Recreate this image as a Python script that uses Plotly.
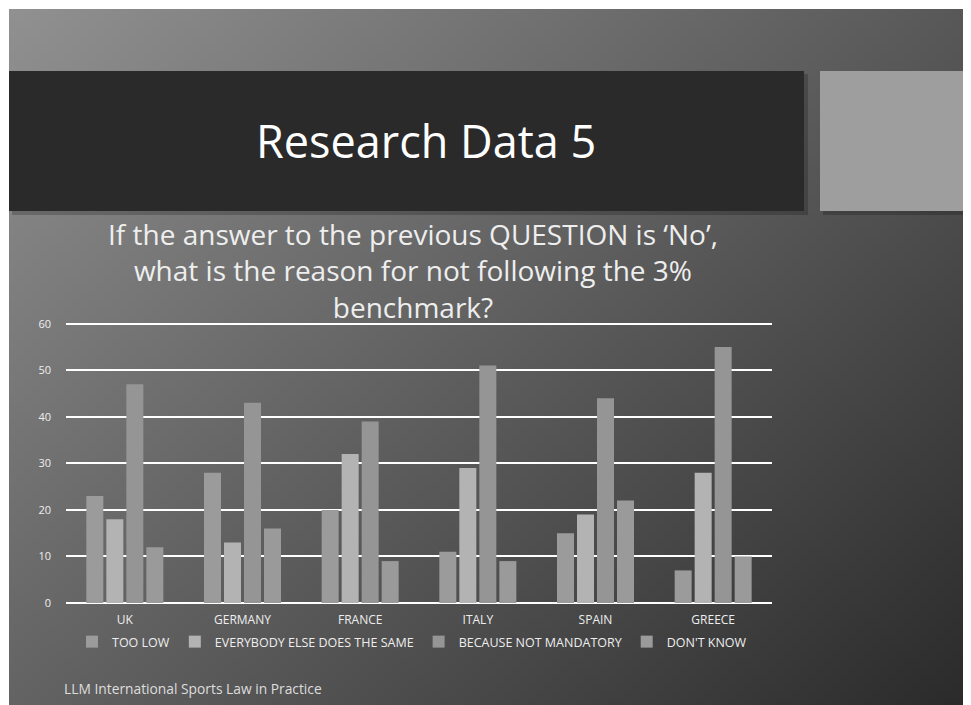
import base64, struct, zlib
import numpy as np
import plotly.graph_objects as go

countries = ["UK", "GERMANY", "FRANCE", "ITALY", "SPAIN", "GREECE"]
too_low = [23, 28, 20, 11, 15, 7]
everybody_else = [18, 13, 32, 29, 19, 28]
not_mandatory = [47, 43, 39, 51, 44, 55]
dont_know = [12, 16, 9, 9, 22, 10]
series_names = ["TOO LOW", "EVERYBODY ELSE DOES THE SAME", "BECAUSE NOT MANDATORY", "DON'T KNOW"]
series_colors = ["#9b9b9b", "#b3b3b3", "#959595", "#9a9a9a"]
y_ticks = [0, 10, 20, 30, 40, 50, 60]
subtitle_lines = ["If the answer to the previous QUESTION is \u2018No\u2019,",
                  "what is the reason for not following the 3%",
                  "benchmark?"]

W, H = 971, 705
OFF = 8  # page body margin
L, R, T, B = 66 - OFF, 772 - OFF, 319 - OFF, 603 - OFF
YMAX = 61


def px(x):
    return (x - OFF - L) / (R - L)


def py(y):
    return (B - (y - OFF)) / (B - T)


def gradient_png(w=120, h=90):
    xs = np.linspace(0, 1, w)[None, :]
    ys = np.linspace(0, 1, h)[:, None]
    t = (xs * 0.55 + ys * 0.45)
    v = 145 - 103 * t
    v = np.clip(v, 0, 255).astype(np.uint8)
    raw = b"".join(b"\x00" + v[i].tobytes() for i in range(h))

    def chunk(tag, data):
        c = struct.pack(">I", len(data)) + tag + data
        return c + struct.pack(">I", zlib.crc32(tag + data) & 0xFFFFFFFF)

    png = b"\x89PNG\r\n\x1a\n"
    png += chunk(b"IHDR", struct.pack(">IIBBBBB", w, h, 8, 0, 0, 0, 0))
    png += chunk(b"IDAT", zlib.compress(raw, 9))
    png += chunk(b"IEND", b"")
    return "data:image/png;base64," + base64.b64encode(png).decode()


fig = go.Figure()
for name, vals, col in zip(series_names, [too_low, everybody_else, not_mandatory, dont_know], series_colors):
    fig.add_trace(go.Bar(x=countries, y=vals, name=name, marker=dict(color=col, line=dict(width=0))))

fig.update_layout(
    width=W, height=H,
    margin=dict(l=L, r=W - R, t=T, b=H - B, pad=0),
    paper_bgcolor="white",
    plot_bgcolor="rgba(0,0,0,0)",
    barmode="group",
    bargap=0.32,
    bargroupgap=0.15,
    font=dict(family="Open Sans, Lato, sans-serif", color="#e8e8e8"),
    xaxis=dict(showgrid=False, tickfont=dict(size=12, color="#eeeeee", family="Open Sans"),
               showline=False, ticks="", ticklen=0, ticklabelstandoff=8),
    yaxis=dict(range=[0, YMAX], tickvals=y_ticks, showgrid=True, gridcolor="white", gridwidth=2,
               zeroline=True, zerolinecolor="white", zerolinewidth=2,
               tickfont=dict(size=11, color="#eeeeee", family="Open Sans"),
               ticks="", ticklabelstandoff=14),
    legend=dict(orientation="h", x=px(412), xanchor="center", y=py(642), yanchor="middle",
                font=dict(size=12.5, color="#eeeeee", family="Open Sans"),
                bgcolor="rgba(0,0,0,0)", itemwidth=30, tracegroupgap=0),
    showlegend=True,
)

fig.add_layout_image(dict(source=gradient_png(), xref="paper", yref="paper",
                          x=px(9), y=py(9), sizex=(W - 9) / (R - L), sizey=(H + 20 - 9) / (B - T),
                          sizing="stretch", xanchor="left", yanchor="top", layer="below"))

shapes = [
    dict(type="rect", xref="paper", yref="paper", x0=px(12), x1=px(808), y0=py(215), y1=py(74),
         fillcolor="rgba(0,0,0,0.2)", line=dict(width=0), layer="below"),
    dict(type="rect", xref="paper", yref="paper", x0=px(9), x1=px(804), y0=py(211), y1=py(71),
         fillcolor="#2a2a2a", line=dict(width=0), layer="below"),
    dict(type="rect", xref="paper", yref="paper", x0=px(823), x1=px(980), y0=py(215), y1=py(74),
         fillcolor="rgba(0,0,0,0.2)", line=dict(width=0), layer="below"),
    dict(type="rect", xref="paper", yref="paper", x0=px(820), x1=px(980), y0=py(211), y1=py(71),
         fillcolor="#9e9e9e", line=dict(width=0), layer="below"),
]
fig.update_layout(shapes=shapes)

fig.add_annotation(text="Research Data 5", xref="paper", yref="paper", x=px(426), y=py(140),
                   showarrow=False, font=dict(size=45, color="white", family="Open Sans"),
                   xanchor="center", yanchor="middle")
fig.add_annotation(text="<br>".join(subtitle_lines), xref="paper", yref="paper", x=px(413), y=py(270),
                   showarrow=False, align="center",
                   font=dict(size=28, color="#eeeeee", family="Open Sans"),
                   xanchor="center", yanchor="middle")
fig.add_annotation(text="LLM International Sports Law in Practice", xref="paper", yref="paper",
                   x=px(62), y=py(688), showarrow=False, xanchor="left", yanchor="middle",
                   font=dict(size=13.8, color="#dddddd", family="Open Sans"))

fig.write_html("out.html")
